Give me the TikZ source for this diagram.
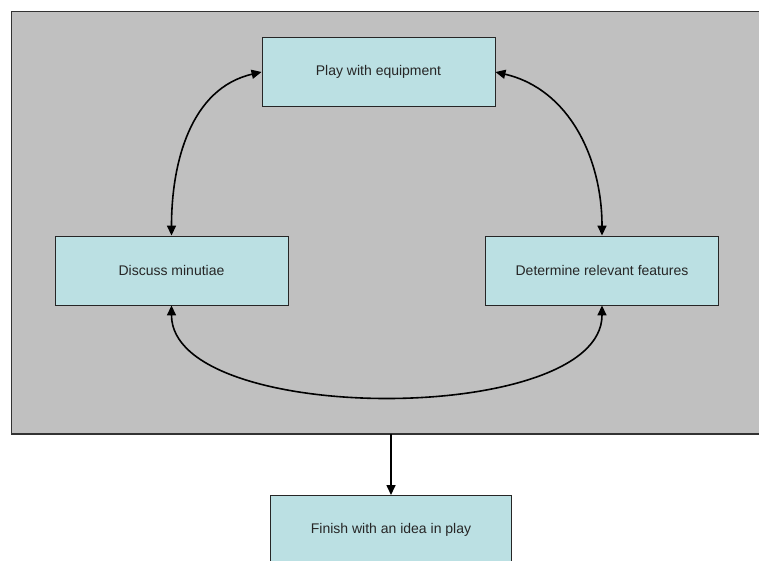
\documentclass[tikz,border=0pt]{standalone}
\usepackage{fontspec}
\setmainfont{Liberation Sans}
\usepackage{tikz}
\usetikzlibrary{arrows.meta}

\definecolor{panelgray}{HTML}{C0C0C0}
\definecolor{boxblue}{HTML}{BBE0E3}

\begin{document}
\begin{tikzpicture}[x = 1pt, y = -1pt,
		box/.style = {draw = black!85, fill = boxblue, line width = 0.9pt, minimum height = 69pt, font = \fontsize{14pt}{16pt}\selectfont, text = black!85, inner sep = 0pt},
		tip/.tip = {Triangle[length = 10pt, width = 9pt]}]
		\clip (0,0) rectangle (759,561);
		\fill [white] (0,0) rectangle (759,561);
		
		\draw [fill = panelgray, draw = black!80, line width = 1.2pt] (11.5,11.5) rectangle (780,434);
		
		\node [box, minimum width = 233pt] (play) at (378.5,72) {Play with equipment};
		\node [box, minimum width = 233pt] (disc) at (171.5,270.5) {Discuss minutiae};
		\node [box, minimum width = 233pt] (det) at (602,270.5) {Determine relevant features};
		\node [box, minimum width = 241pt, anchor = north] (fin) at (391,495) {Finish with an idea in play};
		\coordinate (panel) at (391,434);
		
		\begin{scope}[tip-tip, line width = 1.6pt]
			\draw (play.west) to [out = 193, in = 90] (disc.north);
			\draw (play.east) to [out = -13, in = 90] (det.north);
			\draw (disc.south) to [out = -90, in = -90, looseness = 0.72] (det.south);
		\end{scope}
		
		\draw [-tip, line width = 1.6pt] (panel) -- (fin.north);
	\end{tikzpicture}
\end{document}
